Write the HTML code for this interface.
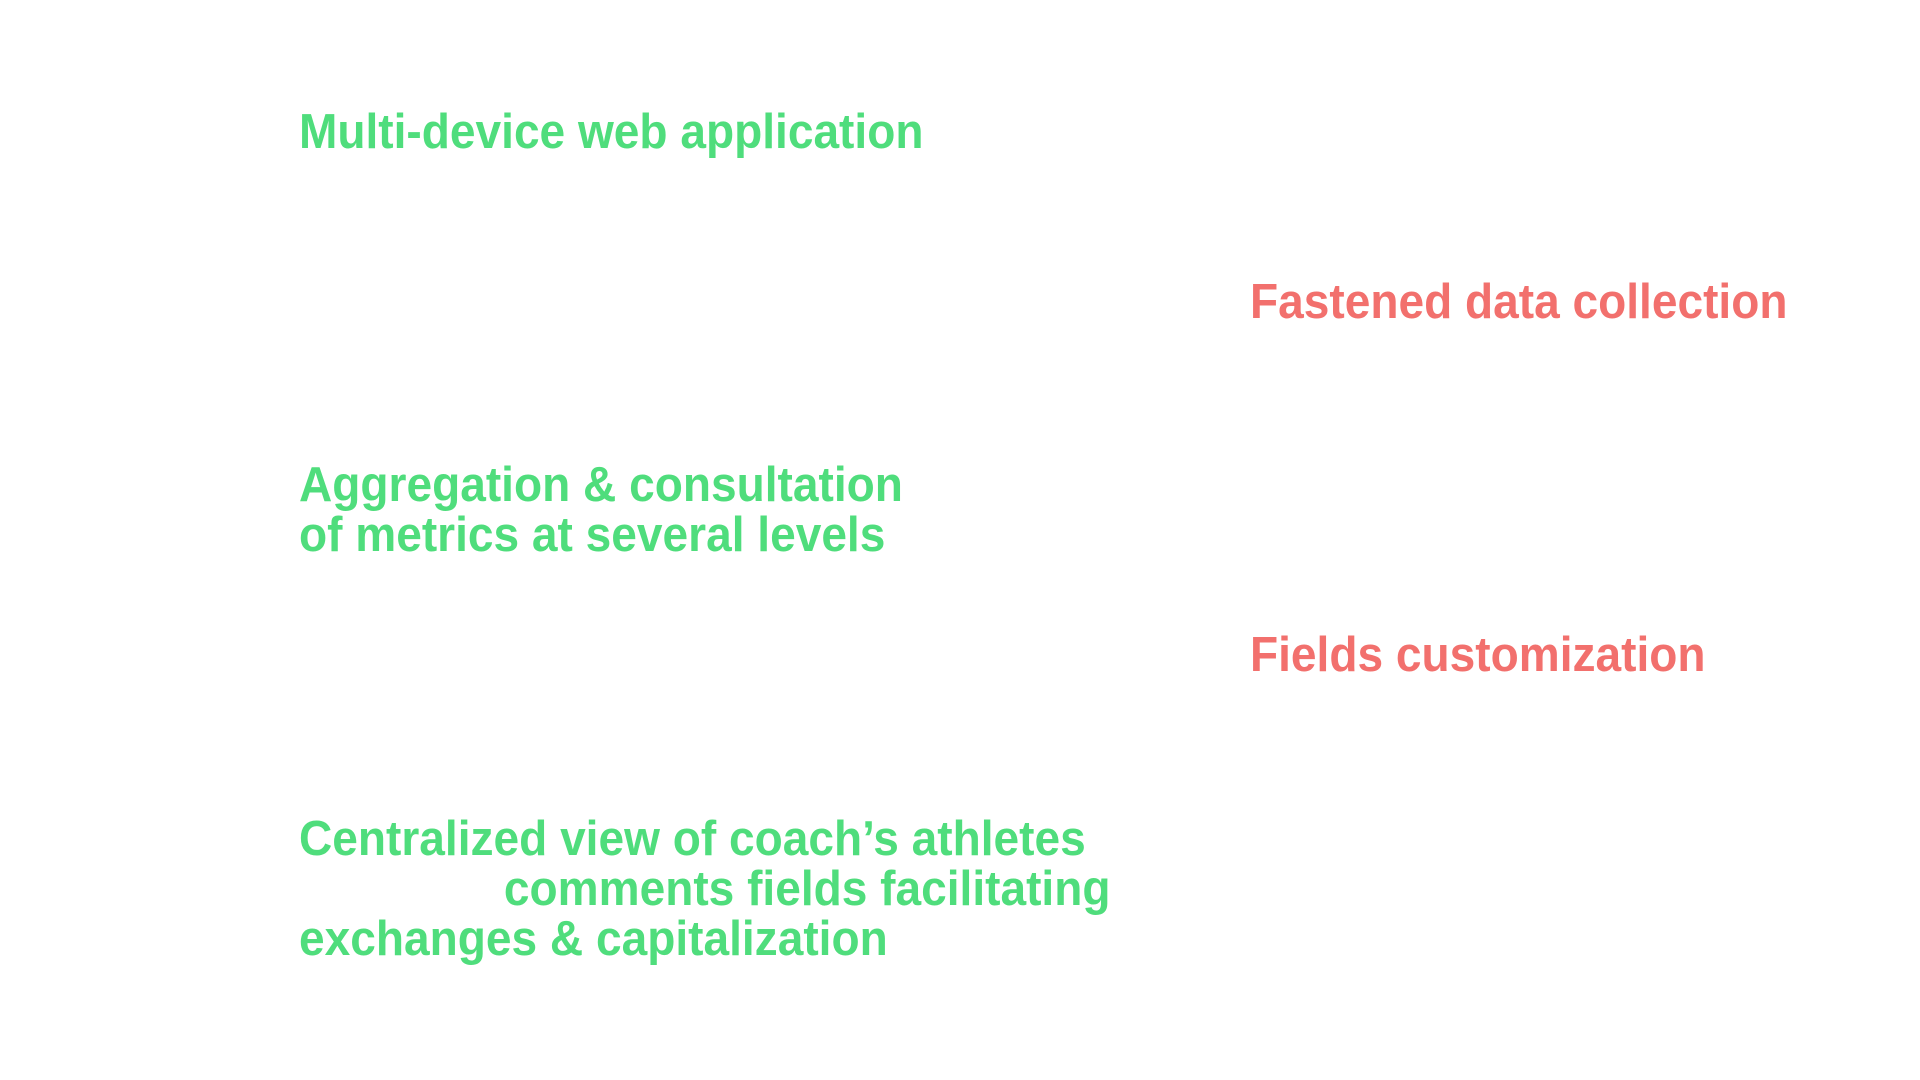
<!DOCTYPE html>
<html><head><meta charset="utf-8"><style>
html,body{margin:0;padding:0;width:1920px;height:1080px;background:#fff;overflow:hidden}
.t{position:absolute;font-family:"Liberation Sans",sans-serif;font-weight:bold;font-size:49px;line-height:50px;white-space:nowrap;transform:scaleX(0.94);transform-origin:0 0}
.g{color:#4fdd7c}.r{color:#f2706d}
</style></head><body>
<div class="t g" style="left:299px;top:107px">Multi-device web application</div>
<div class="t r" style="left:1250px;top:277px">Fastened data collection</div>
<div class="t g" style="left:299px;top:460px">Aggregation &amp; consultation<br>of metrics at several levels</div>
<div class="t r" style="left:1250px;top:630px">Fields customization</div>
<div class="t g" style="left:299px;top:814px">Centralized view of coach’s athletes<br><span style="padding-left:218px">comments fields facilitating</span><br>exchanges &amp; capitalization</div>
</body></html>
